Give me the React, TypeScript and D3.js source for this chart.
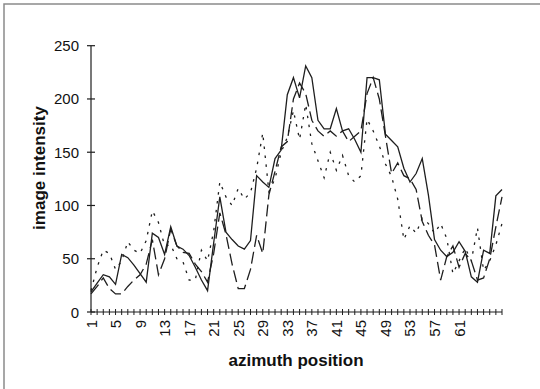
import React from 'react';
import * as d3 from 'd3';

const categories = [
  1, 2, 3, 4, 5, 6, 7, 8, 9, 10, 11, 12, 13, 14, 15, 16, 17, 18, 19, 20,
  21, 22, 23, 24, 25, 26, 27, 28, 29, 30, 31, 32, 33, 34, 35, 36, 37, 38, 39, 40,
  41, 42, 43, 44, 45, 46, 47, 48, 49, 50, 51, 52, 53, 54, 55, 56, 57, 58, 59, 60,
  61, 62, 63, 64, 65, 66, 67, 68,
];

const solidSeries = [
  19, 27, 35, 33, 26, 54, 51, 44, 36, 28, 74, 70, 54, 80, 62, 59, 53, 42, 30, 20,
  65, 108, 75, 68, 62, 59, 67, 128, 122, 117, 144, 152, 204, 220, 201, 231, 220, 180, 172, 172,
  191, 170, 172, 162, 150, 220, 220, 218, 167, 161, 155, 135, 122, 130, 144, 110, 68, 58, 52, 56,
  66, 57, 33, 28, 58, 55, 109, 115,
];

const dashSeries = [
  17, 24, 32, 22, 17, 17, 24, 30, 35, 45, 68, 35, 50, 78, 62, 56, 55, 45, 38, 28,
  55, 93, 73, 45, 22, 22, 40, 72, 55, 110, 132, 155, 160, 200, 215, 205, 180, 170, 165, 170,
  165, 170, 160, 165, 170, 205, 220, 200, 165, 130, 140, 128, 125, 115, 85, 72, 63, 30, 52, 62,
  42, 55, 48, 30, 32, 50, 80, 108,
];

const dotSeries = [
  20, 42, 58, 55, 40, 48, 66, 58, 55, 67, 95, 84, 62, 63, 50, 47, 30, 30, 58, 48,
  76, 122, 108, 100, 116, 106, 112, 135, 168, 113, 125, 150, 164, 189, 162, 195, 158, 142, 126, 150,
  133, 147, 128, 122, 128, 181, 170, 156, 139, 127, 106, 68, 81, 74, 88, 83, 74, 83, 69, 36,
  48, 60, 48, 79, 39, 48, 63, 83,
];

const xTickLabels = [1, 5, 9, 13, 17, 21, 25, 29, 33, 37, 41, 45, 49, 53, 57, 61];
const yTickValues = [0, 50, 100, 150, 200, 250];

const W = 540;
const H = 389;
const FONT = '"Liberation Sans", Arial, sans-serif';

export default function App() {
  const x = d3.scaleLinear().domain([1, categories.length]).range([91, 502]);
  const y = d3.scaleLinear().domain([0, 250]).range([312, 45.7]);

  const line = d3
    .line<number>()
    .x((_, i) => x(categories[i]))
    .y((d) => y(d));

  const ink = '#1e1e1e';

  return (
    <svg
      width={W}
      height={H}
      style={{ position: 'absolute', left: 0, top: 0, display: 'block', background: '#fff' }}
    >
      <rect x={0} y={0} width={W} height={H} fill="#fff" />
      <path d={`M4,${H} L4,4 L${W},4`} fill="none" stroke="#8a8a8a" strokeWidth={1.5} />

      <path d={line(dotSeries) || ''} fill="none" stroke={ink} strokeWidth={1.3} strokeDasharray="2.5,6.5" />
      <path d={line(dashSeries) || ''} fill="none" stroke={ink} strokeWidth={1.3} strokeDasharray="12,5" />
      <path d={line(solidSeries) || ''} fill="none" stroke={ink} strokeWidth={1.3} />

      <line x1={91} x2={91} y1={y(250)} y2={y(0)} stroke={ink} strokeWidth={1.2} />
      {yTickValues.map((v) => (
        <g key={v}>
          <line x1={87} x2={95} y1={y(v)} y2={y(v)} stroke={ink} strokeWidth={1.2} />
          <text
            x={79}
            y={y(v)}
            textAnchor="end"
            dominantBaseline="central"
            fontFamily={FONT}
            fontSize={15}
            fill="#111"
          >
            {v}
          </text>
        </g>
      ))}

      <line x1={91} x2={502} y1={y(0)} y2={y(0)} stroke={ink} strokeWidth={1.2} />
      {categories.map((c) => (
        <line key={c} x1={x(c)} x2={x(c)} y1={y(0) - 3} y2={y(0) + 3} stroke={ink} strokeWidth={1} />
      ))}
      {xTickLabels.map((c) => (
        <text
          key={c}
          transform={`translate(${x(c)},320) rotate(-90)`}
          textAnchor="end"
          dominantBaseline="central"
          fontFamily={FONT}
          fontSize={15}
          fill="#111"
        >
          {c}
        </text>
      ))}

      <text
        x={296}
        y={366}
        textAnchor="middle"
        fontFamily={FONT}
        fontWeight="bold"
        fontSize={17}
        fill="#111"
      >
        azimuth position
      </text>
      <text
        transform="translate(45,168) rotate(-90)"
        textAnchor="middle"
        fontFamily={FONT}
        fontWeight="bold"
        fontSize={17}
        fill="#111"
      >
        image intensity
      </text>
    </svg>
  );
}
